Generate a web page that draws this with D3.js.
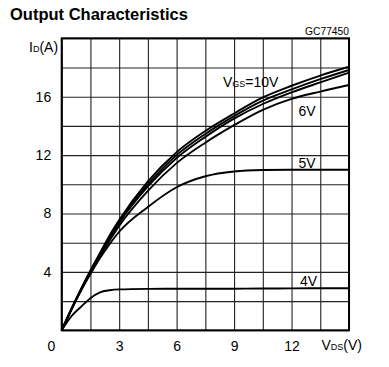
<!DOCTYPE html>
<html>
<head>
<meta charset="utf-8">
<script src="https://cdn.jsdelivr.net/npm/d3@7"></script>
<style>
html,body{margin:0;padding:0;background:#fff;}
svg{display:block;}
text{font-family:"Liberation Sans",Arial,sans-serif;fill:#000;}
</style>
</head>
<body>
<svg id="chart" width="389" height="367"></svg>
<script>
// ---- data ----
const vds    = [0, 0.5, 1, 1.5, 2, 2.5, 3, 4.5, 6, 7.5, 9, 10.5, 12, 13.5, 15];
const id10V  = [0, 1.45, 2.8, 4.1, 5.3, 6.5, 7.55, 10.2, 12.2, 13.65, 14.85, 15.95, 16.75, 17.45, 18.05];
const id8V   = [0, 1.45, 2.8, 4.05, 5.25, 6.4, 7.45, 10.0, 12.0, 13.45, 14.67, 15.73, 16.5, 17.2, 17.83];
const id7V   = [0, 1.4, 2.75, 4.0, 5.2, 6.3, 7.35, 9.85, 11.8, 13.25, 14.5, 15.5, 16.3, 16.98, 17.64];
const id6V   = [0, 1.4, 2.7, 3.95, 5.1, 6.15, 7.15, 9.55, 11.45, 12.85, 14.05, 15.1, 15.85, 16.35, 16.8];
const id5V   = [0, 1.4, 2.7, 3.85, 4.95, 5.9, 6.75, 8.45, 9.8, 10.55, 10.88, 10.98, 11.0, 11.0, 11.0];
const id4V   = [0, 0.95, 1.6, 2.2, 2.6, 2.74, 2.8, 2.84, 2.85, 2.85, 2.85, 2.86, 2.87, 2.88, 2.88];
const series = [id10V, id8V, id7V, id6V, id5V, id4V];
const xTickLabels = [3, 6, 9, 12];
const yTickLabels = [4, 8, 12, 16];
const xGrid = d3.range(0, 15.01, 1.5);
const yGrid = d3.range(0, 20.01, 2);

// ---- layout ----
const L = 61.7, R = 349, T = 38.3, B = 330.3;
const x = d3.scaleLinear().domain([0, 15]).range([L, R]);
const y = d3.scaleLinear().domain([0, 20]).range([B, T]);
const svg = d3.select("#chart");

// title
svg.append("text").attr("x", 10).attr("y", 19.5)
  .attr("font-size", 16.5).attr("font-weight", "bold").attr("fill", "#111")
  .text("Output Characteristics");
svg.append("text").attr("x", 349).attr("y", 34.5).attr("text-anchor", "end")
  .attr("font-size", 10).attr("textLength", 44).attr("lengthAdjust", "spacingAndGlyphs")
  .text("GC77450");

// grid (via axes)
const gx = svg.append("g").attr("transform", `translate(0,${B})`)
  .call(d3.axisBottom(x).tickValues(xGrid).tickSize(-(B - T)).tickFormat(""));
const gy = svg.append("g").attr("transform", `translate(${L},0)`)
  .call(d3.axisLeft(y).tickValues(yGrid).tickSize(-(R - L)).tickFormat(""));
[gx, gy].forEach(g => {
  g.select(".domain").remove();
  g.selectAll(".tick line").attr("stroke", "#222").attr("stroke-width", 1.1);
});

// tick labels
const ax = svg.append("g").attr("transform", `translate(0,${B})`)
  .call(d3.axisBottom(x).tickValues(xTickLabels).tickSize(0).tickPadding(10.5));
const ay = svg.append("g").attr("transform", `translate(${L},0)`)
  .call(d3.axisLeft(y).tickValues(yTickLabels).tickSize(0).tickPadding(10.5));
[ax, ay].forEach(g => {
  g.select(".domain").remove();
  g.selectAll("text").attr("font-size", 14).attr("font-family", "Liberation Sans, Arial, sans-serif").attr("fill", "#000");
});
svg.append("text").attr("x", 51.5).attr("y", 351).attr("text-anchor", "middle")
  .attr("font-size", 14).text("0");

// frame
svg.append("rect").attr("x", L).attr("y", T).attr("width", R - L).attr("height", B - T)
  .attr("fill", "none").attr("stroke", "#000").attr("stroke-width", 2);

// curves
const line = d3.line().x((d, i) => x(vds[i])).y(d => y(d)).curve(d3.curveMonotoneX);
svg.append("g").selectAll("path").data(series).join("path")
  .attr("d", d => line(d)).attr("fill", "none").attr("stroke", "#000").attr("stroke-width", 1.9);

// axis titles
const idl = svg.append("text").attr("x", 29).attr("y", 52).attr("font-size", 14);
idl.append("tspan").text("I");
idl.append("tspan").attr("font-size", 9).text("D");
idl.append("tspan").text("(A)");
const vdl = svg.append("text").attr("x", 321.5).attr("y", 350).attr("font-size", 14);
vdl.append("tspan").text("V");
vdl.append("tspan").attr("font-size", 9).text("DS");
vdl.append("tspan").text("(V)");

// curve labels
const vg = svg.append("text").attr("x", 223).attr("y", 86.5).attr("font-size", 14);
vg.append("tspan").text("V");
vg.append("tspan").attr("font-size", 9).text("GS");
vg.append("tspan").text("=10V");
svg.append("text").attr("x", 298.5).attr("y", 116).attr("font-size", 14).text("6V");
svg.append("text").attr("x", 298.5).attr("y", 167.5).attr("font-size", 14).text("5V");
svg.append("text").attr("x", 300).attr("y", 285.5).attr("font-size", 14).text("4V");
</script>
</body>
</html>
